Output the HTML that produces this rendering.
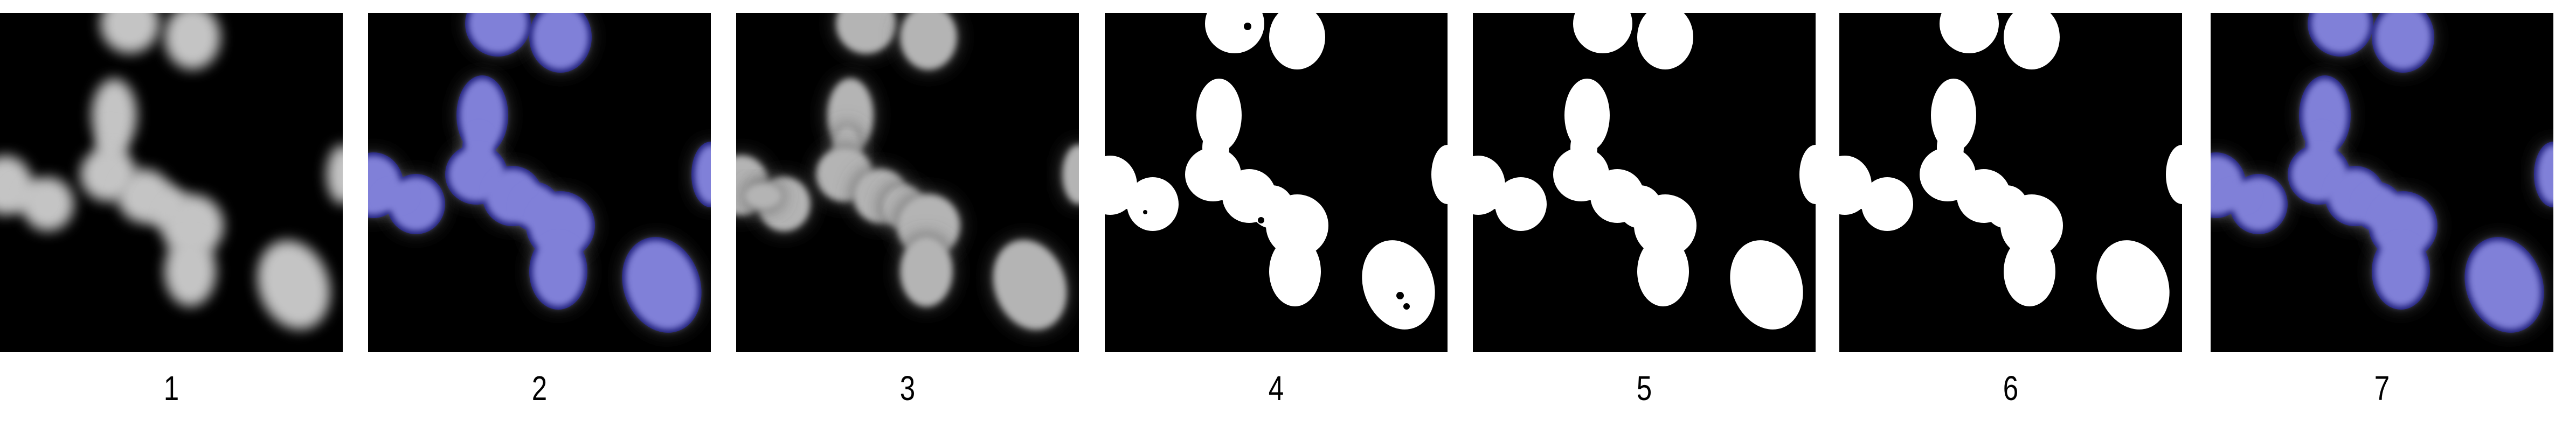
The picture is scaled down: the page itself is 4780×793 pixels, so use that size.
<!DOCTYPE html>
<html><head><meta charset="utf-8"><style>
body{margin:0;background:#fff;width:4780px;height:793px;overflow:hidden;position:relative;font-family:"Liberation Sans",sans-serif}
.lbl{position:absolute;top:684px;width:636px;text-align:center;font-size:64px;color:#000;transform:scaleX(0.8)}
svg.p{position:absolute;top:24px}
</style></head><body>
<div id="root"></div>
<script>
const panelLabels=["1","2","3","4","5","6","7"];
const panelX=[0,683,1366,2050,2733,3413,4102];
const panelKinds=["gray","blue","gray3","bin","bin","bin","blue"];
// blob cx, cy, rx, ry, rotation
const blobCx=[241,357,212,206,201,10,89,50,268,310,357,353,545,636];
const blobCy=[20,45,190,250,300,320,355,340,340,360,395,480,505,300];
const blobRx=[55,52,42,25,52,50,48,35,50,40,58,48,65,30];
const blobRy=[55,60,68,40,50,55,50,25,50,40,58,65,85,55];
const blobRot=[0,0,0,0,0,0,0,0,0,0,0,0,-20,0];
const root=document.getElementById('root');
const NS="http://www.w3.org/2000/svg";
panelX.forEach((x,i)=>{
  const kind=panelKinds[i];
  const s=document.createElementNS(NS,'svg');
  s.setAttribute('class','p');s.setAttribute('width',636);s.setAttribute('height',630);
  s.style.left=x+'px';
  
  
  let h=`<defs><filter id="b${i}" x="-50%" y="-50%" width="200%" height="200%"><feGaussianBlur stdDeviation="${kind==='gray'?12:6}"/></filter><filter id="g${i}" x="-50%" y="-50%" width="200%" height="200%"><feGaussianBlur stdDeviation="18"/></filter></defs><rect width="636" height="630" fill="#000"/>`;
  const ell=(j,fill,extra)=>`<ellipse cx="${blobCx[j]}" cy="${blobCy[j]}" rx="${blobRx[j]}" ry="${blobRy[j]}" transform="rotate(${blobRot[j]} ${blobCx[j]} ${blobCy[j]})" fill="${fill}" ${extra||''}/>`;
  let g='';
  if(kind==='blue'){
    blobCx.forEach((_,j)=>{g+=ell(j,'#555',`filter="url(#g${i})"`);});
    blobCx.forEach((_,j)=>{g+=ell(j,'#1c1c78','stroke="#1c1c78" stroke-width="12"');});
    blobCx.forEach((_,j)=>{g+=ell(j,'#8080d8',`filter="url(#b${i})"`);});
  } else {
    blobCx.forEach((_,j)=>{
      if(kind==='gray'){g+=ell(j,'#c4c4c4',`filter="url(#b${i})"`);}
      else if(kind==='gray3'){g+=ell(j,'#555',`filter="url(#g${i})"`)+ell(j,'#b4b4b4',`filter="url(#b${i})"`);}
      else {g+=ell(j,'#fff');}
    });
  }
  if(i===3){g+='<circle cx="75" cy="370" r="4" fill="#000"/><circle cx="290" cy="385" r="6" fill="#000"/><circle cx="548" cy="525" r="7" fill="#000"/><circle cx="560" cy="545" r="6" fill="#000"/><circle cx="265" cy="25" r="7" fill="#000"/>';}
  s.innerHTML=h+g;
  root.appendChild(s);
  const l=document.createElement('div');
  l.className='lbl';l.style.left=x+'px';l.textContent=panelLabels[i];
  
  
  root.appendChild(l);
});
</script>
</body></html>
